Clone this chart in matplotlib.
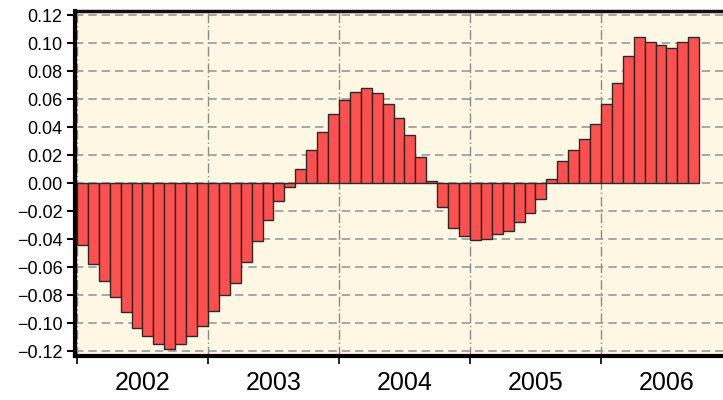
import matplotlib
matplotlib.use("Agg")
import matplotlib.pyplot as plt
import numpy as np

plt.rcParams['font.family'] = ['Liberation Sans', 'DejaVu Sans']

# Monthly values, Jan 2002 .. Sep 2006
values = [
    -0.044, -0.058, -0.070, -0.081, -0.092, -0.103, -0.109, -0.115, -0.118, -0.115, -0.109, -0.102,  # 2002
    -0.091, -0.080, -0.071, -0.056, -0.041, -0.026, -0.013, -0.003, 0.010, 0.0236, 0.0366, 0.0495,   # 2003
    0.0595, 0.0654, 0.0683, 0.0645, 0.0564, 0.0466, 0.0345, 0.019, 0.0017, -0.017, -0.032, -0.038,    # 2004
    -0.0405, -0.040, -0.036, -0.034, -0.028, -0.021, -0.011, 0.0029, 0.0159, 0.0236, 0.0319, 0.0426,  # 2005
    0.0564, 0.0714, 0.0905, 0.1043, 0.1005, 0.0986, 0.0964, 0.1005, 0.1043,                           # 2006
]
start_year = 2002
years = [2002, 2003, 2004, 2005, 2006]
yticks = [-0.12, -0.10, -0.08, -0.06, -0.04, -0.02, 0.00, 0.02, 0.04, 0.06, 0.08, 0.10, 0.12]

fig = plt.figure(figsize=(7.23, 4.0), dpi=100)
ax = fig.add_axes([75/723, 1 - 356/400, 1 - 75/723, (356 - 11)/400])
ax.set_facecolor('#FDF7E4')

x = start_year + np.arange(len(values)) / 12.0 + 1/24
ax.bar(x, values, width=1/12, color='#FF5050', edgecolor='#2a2a2a', linewidth=1.0, zorder=3)

ax.set_ylim(-0.1233, 0.1229)
ax.set_xlim(start_year - 0.015, start_year + 646/131)

ax.set_yticks(yticks)
ax.set_yticklabels([('\u2212' if v < 0 else '') + f"{abs(v):.2f}" for v in yticks], fontsize=13)

ax.set_xticks(years)
ax.set_xticklabels([])
ax.set_xticks([y + 0.5 for y in years], minor=True)
ax.set_xticklabels([str(y) for y in years], minor=True, fontsize=18)
ax.tick_params(axis='x', which='minor', length=0, pad=11)
ax.tick_params(axis='x', which='major', length=6, width=1.2, direction='out')
ax.tick_params(axis='y', length=6, width=1.5, direction='out', pad=3)

ax.grid(axis='y', color='#9a9a9a', linestyle=(0, (5, 3)), linewidth=1.2, zorder=1)
ax.grid(axis='x', which='major', color='#8a8a8a', linestyle=(0, (7, 2, 1, 2)), linewidth=1.0, zorder=1)
ax.set_axisbelow(True)

for side in ['left', 'bottom']:
    ax.spines[side].set_linewidth(3)
    ax.spines[side].set_color('black')
ax.spines['top'].set_linewidth(2.5)
ax.spines['top'].set_color('#111111')
ax.spines['right'].set_visible(False)

fig.savefig('out.png', dpi=100)
